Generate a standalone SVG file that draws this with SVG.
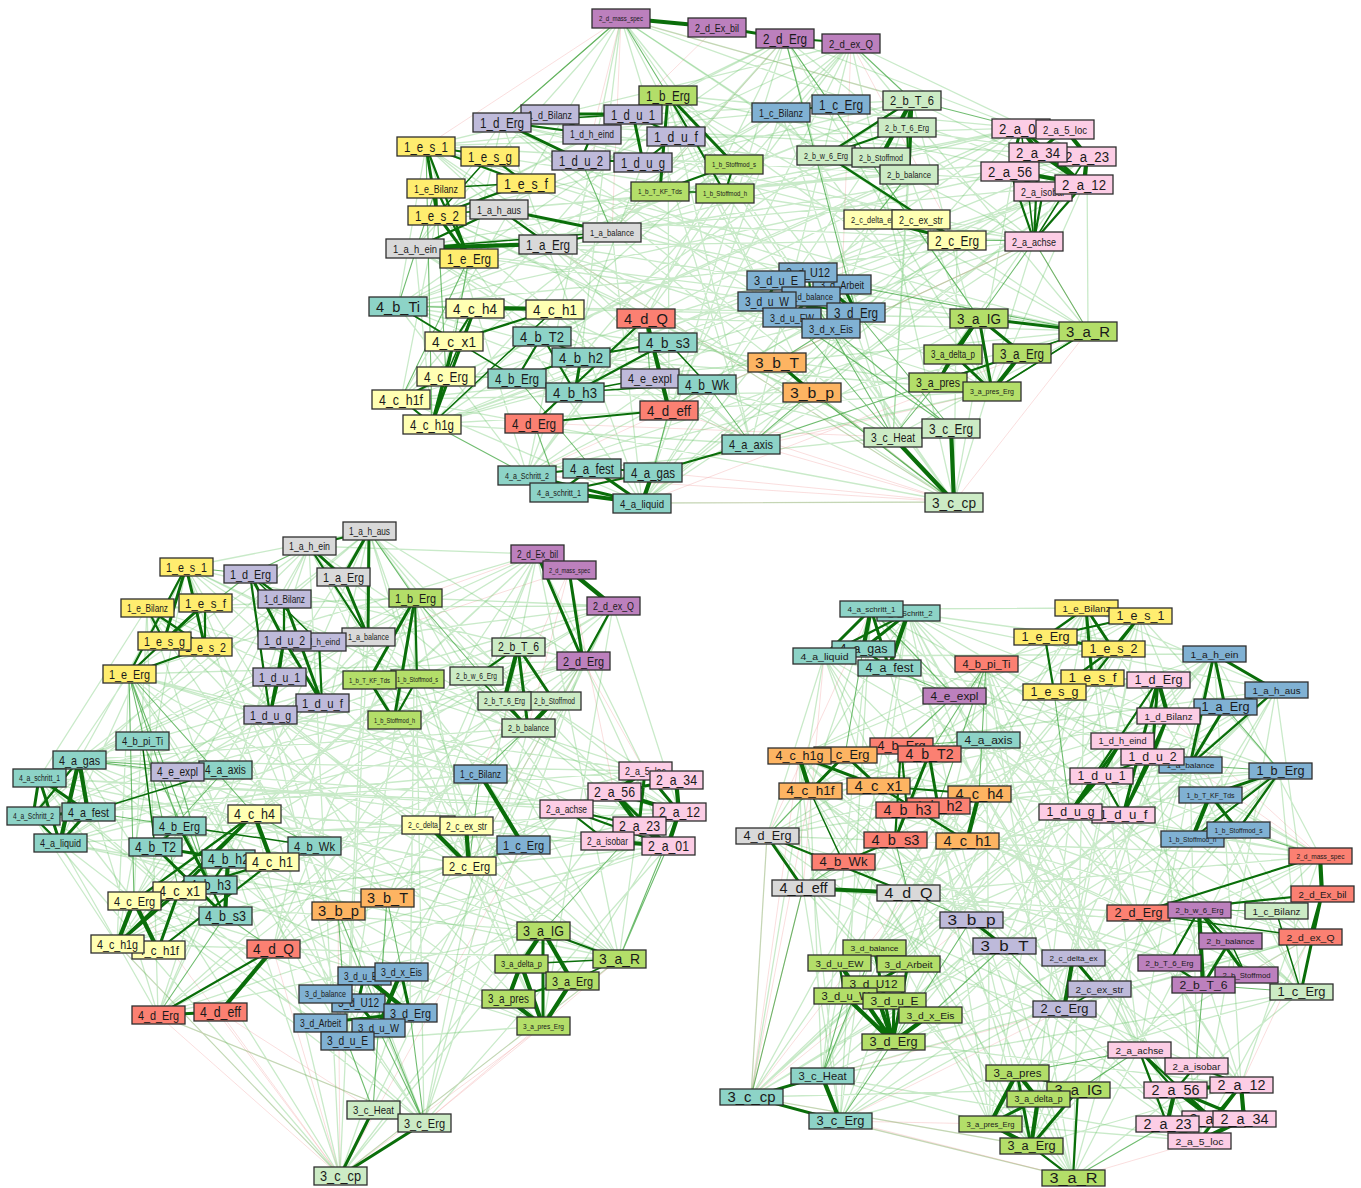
<svg xmlns="http://www.w3.org/2000/svg" width="1361" height="1188" viewBox="0 0 1361 1188">
<style>
text{font-family:"Liberation Sans",Arial,sans-serif;text-anchor:middle;dominant-baseline:central;fill:#1a1a1a}
.nd rect{stroke:#2e2e2e;stroke-width:1.3}
#gT rect{width:58px;height:19px}
#gL rect{width:53px;height:18px}
#gR rect{width:63px;height:16px}
.cG rect{fill:#d9d9d9}.cL rect{fill:#bebada}.cY rect{fill:#ffed6f}.cV rect{fill:#b3de69}.cB rect{fill:#80b1d3}.cP rect{fill:#bc80bd}.cM rect{fill:#ccebc5}.cK rect{fill:#fccde5}.cW rect{fill:#ffffb3}.cO rect{fill:#fdb462}.cT rect{fill:#8dd3c7}.cS rect{fill:#fb8072}
#gT .s1{font-size:15.5px}#gT .s2{font-size:14px}#gT .s3{font-size:13px}#gT .s4{font-size:12px}#gT .s5{font-size:11px}#gT .s6{font-size:10px}#gT .s7{font-size:9px}#gT .s8{font-size:8px}#gT .s9{font-size:7.3px}
#gL .s1{font-size:14.5px}#gL .s2{font-size:13px}#gL .s3{font-size:12px}#gL .s4{font-size:11.2px}#gL .s5{font-size:10.2px}#gL .s6{font-size:9.3px}#gL .s7{font-size:8.4px}#gL .s8{font-size:7.5px}#gL .s9{font-size:6.8px}
#gR .s1{font-size:14px}#gR .s2{font-size:12.5px}#gR .s3{font-size:11.5px}#gR .s4{font-size:10.5px}#gR .s5{font-size:9.7px}#gR .s6{font-size:8.8px}#gR .s7{font-size:8px}#gR .s8{font-size:7.2px}#gR .s9{font-size:6.5px}
.pk{fill:none;stroke:#f0a0a0;stroke-opacity:.35;stroke-width:1}
.fa{fill:none;stroke:#5cbf5c;stroke-opacity:.33;stroke-width:1.3}
.md{fill:none;stroke:#3fa53f;stroke-opacity:.75;stroke-width:1.1}
.st{fill:none;stroke:#0a6e0a;stroke-linecap:round}
.w1{stroke-width:1.5}.w2{stroke-width:2.2}.w3{stroke-width:3}.w4{stroke-width:4.2}
</style>
<g id="connectors">
<g id="edgesTop">
<path class="pk" d="M954 502 527 475M954 502 642 503M954 502 653 472M954 502 812 392M954 502 777 362M954 502 751 444M954 502 548 244M621 18 426 146M621 18 502 122M621 18 912 100M621 18 592 134M621 18 612 232M851 43 957 240M851 43 842 284M1088 331 1034 241M954 502 669 410M954 502 893 437M1088 331 954 502M642 503 1088 331M527 475 1034 241M559 492 992 391M717 27 581 160M785 38 612 232M669 410 1034 241M534 423 893 437"/>
<path class="fa" d="M621 18 1084 184M785 38 1034 241M851 43 1088 331M912 100 992 391M1021 128 954 502M1087 156 893 437M1084 184 751 444M1034 241 642 503M1088 331 527 475M992 391 432 424M954 502 401 399M893 437 398 306M751 444 415 248M642 503 437 215M527 475 426 146M432 424 502 122M401 399 668 95M398 306 781 112M415 248 621 18M437 215 785 38M426 146 851 43M502 122 912 100M668 95 1021 128M781 112 1087 156M621 18 954 502M785 38 893 437M851 43 751 444M912 100 642 503M1021 128 527 475M1087 156 432 424M1084 184 401 399M1034 241 398 306M1088 331 415 248M992 391 437 215M954 502 426 146M893 437 502 122M751 444 668 95M642 503 781 112M527 475 621 18M432 424 785 38M401 399 851 43M398 306 912 100M415 248 1021 128M437 215 1087 156M426 146 1084 184M502 122 1034 241M668 95 1088 331M781 112 992 391M621 18 751 444M785 38 642 503M851 43 527 475M912 100 432 424M1021 128 401 399M1087 156 398 306M1084 184 415 248M1034 241 437 215M1088 331 426 146M992 391 502 122M954 502 668 95M893 437 781 112M612 232 785 38M612 232 1021 128M612 232 1088 331M612 232 954 502M612 232 642 503M612 232 401 399M957 240 621 18M957 240 502 122M957 240 415 248M957 240 432 424M957 240 642 503M957 240 954 502M856 312 621 18M856 312 426 146M856 312 398 306M856 312 432 424M856 312 1087 156M856 312 642 503M812 392 668 95M812 392 437 215M812 392 1084 184M812 392 912 100M812 392 401 399M812 392 954 502M646 318 785 38M646 318 1021 128M646 318 1088 331M646 318 893 437M646 318 426 146M646 318 527 475M581 357 851 43M581 357 1084 184M581 357 992 391M581 357 751 444M581 357 415 248M581 357 621 18M979 318 426 146M979 318 668 95M979 318 398 306M979 318 527 475M979 318 751 444M979 318 785 38M909 174 437 215M909 174 401 399M909 174 642 503M909 174 893 437M909 174 992 391M909 174 502 122M725 193 1021 128M725 193 1034 241M725 193 954 502M725 193 527 475M725 193 398 306M725 193 426 146M669 410 668 95M669 410 851 43M669 410 1087 156M669 410 1034 241M669 410 437 215M669 410 398 306M767 301 621 18M767 301 502 122M767 301 415 248M767 301 432 424M767 301 1084 184M767 301 642 503M548 244 912 100M548 244 1087 156M548 244 1088 331M548 244 954 502M548 244 751 444M548 244 781 112"/>
<path class="fa" d="M621 18 912 100M785 38 1021 128M851 43 1087 156M912 100 1084 184M1021 128 1034 241M1087 156 1088 331M1084 184 992 391M1034 241 954 502M1088 331 893 437M992 391 751 444M954 502 642 503M893 437 527 475M751 444 432 424M642 503 401 399M527 475 398 306M432 424 415 248M401 399 437 215M398 306 426 146M415 248 502 122M437 215 668 95M426 146 781 112M502 122 621 18M668 95 785 38M781 112 851 43M621 18 1088 331M785 38 992 391M851 43 954 502M912 100 893 437M1021 128 751 444M1087 156 642 503M1084 184 527 475M1034 241 432 424M1088 331 401 399M992 391 398 306M954 502 415 248M893 437 437 215M751 444 426 146M642 503 502 122M527 475 668 95M432 424 781 112M401 399 621 18M398 306 785 38M415 248 851 43M437 215 912 100M426 146 1021 128M502 122 1087 156M668 95 1084 184M781 112 1034 241"/>
<path class="md" d="M436 188 446 376M426 146 432 424M436 188 398 306M469 258 401 399M469 258 454 341M785 38 856 312M785 38 979 318M621 18 502 122M777 362 856 312M767 301 951 428M792 317 893 437M831 328 951 428M811 296 893 437M856 312 951 428M751 444 1088 331M842 284 1088 331M812 392 751 444M1034 241 1088 331M957 240 1034 241M873 219 909 174M1021 128 912 100M668 95 621 18M851 43 912 100M548 244 612 232M612 232 581 160M398 306 475 308M398 306 454 341M517 378 446 376M650 378 646 318M707 384 751 444M669 410 707 384M592 468 517 378M653 472 669 410M527 475 432 424M559 492 534 423M1088 331 992 391M979 318 1034 241M938 382 893 437M954 502 812 392"/>
<path class="st w1" d="M415 248 612 232M490 156 437 215M436 188 526 183M502 122 633 114M660 191 725 193M1088 331 1022 353M893 437 951 428M475 308 446 376M555 309 432 424M707 384 575 392M398 306 517 378M668 342 707 384M650 378 575 392M499 209 437 215M469 258 415 248M1088 331 992 391M1034 241 1021 128M1034 241 1087 156"/>
<path class="st w2" d="M499 209 548 244M415 248 499 209M548 244 612 232M426 146 490 156M426 146 469 258M490 156 526 183M436 188 437 215M526 183 437 215M436 188 469 258M426 146 526 183M502 122 550 114M633 114 676 136M581 160 643 162M592 134 581 160M502 122 592 134M676 136 643 162M550 114 592 134M668 95 725 193M660 191 734 164M734 164 725 193M781 112 841 104M785 38 851 43M912 100 826 155M907 127 826 155M881 157 909 174M907 127 909 174M921 219 957 240M873 219 921 219M826 155 957 240M979 318 938 382M938 382 992 391M1022 353 938 382M767 301 856 312M792 317 831 328M811 296 856 312M776 280 831 328M808 272 811 296M776 280 856 312M842 284 831 328M527 475 592 468M559 492 592 468M592 468 653 472M653 472 751 444M559 492 653 472M475 308 454 341M454 341 446 376M446 376 401 399M401 399 432 424M555 309 454 341M446 376 432 424M542 336 581 357M542 336 517 378M517 378 575 392M668 342 581 357M668 342 575 392M542 336 575 392M517 378 581 357M669 410 534 423M646 318 534 423M1034 241 1043 191M1034 241 1010 171M1034 241 1084 184M1034 241 1038 152"/>
<path class="st w3" d="M499 209 612 232M426 146 437 215M437 215 469 258M502 122 581 160M550 114 633 114M633 114 643 162M668 95 734 164M668 95 660 191M717 27 785 38M912 100 907 127M912 100 909 174M873 219 957 240M979 318 1088 331M979 318 1022 353M979 318 992 391M953 354 938 382M953 354 992 391M777 362 812 392M527 475 559 492M592 468 642 503M527 475 642 503M475 308 432 424M454 341 432 424M581 357 575 392M1021 128 1010 171M1065 129 1038 152M1038 152 1087 156M1010 171 1043 191M1043 191 1084 184M1021 128 1084 184M1021 128 1065 129M808 272 856 312M776 280 767 301M842 284 856 312M811 296 792 317M808 272 776 280"/>
<path class="st w4" d="M415 248 548 244M621 18 717 27M912 100 881 157M979 318 953 354M1022 353 992 391M893 437 954 502M951 428 954 502M559 492 642 503M653 472 642 503M475 308 555 309M646 318 669 410M1021 128 1038 152M1038 152 1010 171M1038 152 1084 184M1087 156 1084 184M1010 171 1084 184M1065 129 1087 156"/>
</g>
<g id="edgesLeft">
<path class="pk" d="M340 1176 158 1015M340 1176 220 1012M340 1176 619 959M340 1176 543 1026M340 1176 273 949M340 1176 338 911M340 1176 523 845M340 1176 117 944M340 1176 134 901M569 570 528 728M569 570 480 774M569 570 614 792M569 570 368 637M613 606 469 866M537 554 415 598M158 1015 424 1123M220 1012 373 1110M424 1123 543 1026M619 959 424 1123M583 661 645 771"/>
<path class="fa" d="M369 531 668 846M537 554 619 959M613 606 543 1026M583 661 424 1123M645 771 340 1176M679 812 347 1041M668 846 158 1015M619 959 117 944M543 1026 134 901M424 1123 60 843M340 1176 33 816M347 1041 39 778M158 1015 79 760M117 944 129 674M134 901 147 608M60 843 186 567M33 816 309 546M39 778 415 598M79 760 369 531M129 674 537 554M147 608 613 606M186 567 583 661M309 546 645 771M415 598 679 812M369 531 340 1176M537 554 347 1041M613 606 158 1015M583 661 117 944M645 771 134 901M679 812 60 843M668 846 33 816M619 959 39 778M543 1026 79 760M424 1123 129 674M340 1176 147 608M347 1041 186 567M158 1015 309 546M117 944 415 598M134 901 369 531M60 843 537 554M33 816 613 606M39 778 583 661M79 760 645 771M129 674 679 812M147 608 668 846M186 567 619 959M309 546 543 1026M415 598 424 1123M369 531 158 1015M537 554 117 944M613 606 134 901M583 661 60 843M645 771 33 816M679 812 39 778M668 846 79 760M619 959 129 674M543 1026 147 608M424 1123 186 567M340 1176 309 546M347 1041 415 598M368 637 613 606M368 637 679 812M368 637 543 1026M368 637 347 1041M368 637 134 901M368 637 39 778M528 728 369 531M528 728 186 567M528 728 79 760M528 728 60 843M528 728 158 1015M528 728 424 1123M480 774 309 546M480 774 129 674M480 774 33 816M480 774 117 944M480 774 340 1176M480 774 619 959M469 866 369 531M469 866 147 608M469 866 39 778M469 866 415 598M469 866 613 606M469 866 645 771M387 898 537 554M387 898 583 661M387 898 679 812M387 898 129 674M387 898 186 567M387 898 60 843M273 949 537 554M273 949 583 661M273 949 645 771M273 949 415 598M273 949 369 531M273 949 668 846M254 814 613 606M254 814 668 846M254 814 543 1026M254 814 340 1176M254 814 537 554M254 814 158 1015M270 715 645 771M270 715 619 959M270 715 424 1123M270 715 347 1041M270 715 117 944M270 715 33 816M543 931 147 608M543 931 309 546M543 931 79 760M543 931 134 901M543 931 158 1015M543 931 340 1176M566 809 186 567M566 809 129 674M566 809 39 778M566 809 117 944M566 809 347 1041M566 809 369 531M177 772 537 554M177 772 583 661M177 772 679 812M177 772 619 959M177 772 424 1123M177 772 309 546M410 1013 147 608M410 1013 79 760M410 1013 415 598M410 1013 613 606M410 1013 679 812M410 1013 134 901"/>
<path class="fa" d="M369 531 583 661M537 554 645 771M613 606 679 812M583 661 668 846M645 771 619 959M679 812 543 1026M668 846 424 1123M619 959 340 1176M543 1026 347 1041M424 1123 158 1015M340 1176 117 944M347 1041 134 901M158 1015 60 843M117 944 33 816M134 901 39 778M60 843 79 760M33 816 129 674M39 778 147 608M79 760 186 567M129 674 309 546M147 608 415 598M186 567 369 531M309 546 537 554M415 598 613 606M369 531 543 1026M537 554 424 1123M613 606 340 1176M583 661 347 1041M645 771 158 1015M679 812 117 944M668 846 134 901M619 959 60 843M543 1026 33 816M424 1123 39 778M340 1176 79 760M347 1041 129 674M158 1015 147 608M117 944 186 567M134 901 309 546M60 843 415 598M33 816 369 531M39 778 537 554M79 760 613 606M129 674 583 661M147 608 645 771M186 567 679 812M309 546 668 846M415 598 619 959"/>
<path class="md" d="M129 674 179 826M129 674 254 814M129 674 210 885M129 674 179 891M129 674 134 901M142 741 210 885M79 760 177 772M79 760 225 770M88 812 179 826M387 898 410 1013M387 898 378 1028M387 898 373 1110M338 911 347 1041M338 911 424 1123M469 866 480 774M619 959 668 846M619 959 679 812M424 1123 410 1013M424 1123 378 1028M373 1110 347 1041M369 531 415 598M415 598 504 701M250 574 186 567M164 641 250 574M309 546 250 574M480 774 528 728M469 866 523 845M543 931 639 826M254 814 314 846M177 772 210 885M225 770 155 847M273 949 225 916M225 916 158 1015"/>
<path class="st w1" d="M250 574 319 642M476 676 528 728M88 812 225 770M179 826 314 846M142 741 155 847M428 825 466 826M619 959 572 981M619 959 521 964M373 1110 424 1123"/>
<path class="st w2" d="M309 546 368 637M309 546 369 531M186 567 129 674M205 603 129 674M147 608 205 647M164 641 205 647M147 608 164 641M205 603 205 647M129 674 205 647M250 574 270 715M284 599 284 640M319 642 322 703M250 574 284 599M284 640 279 677M415 598 417 679M417 679 394 720M613 606 583 661M537 554 569 570M476 676 518 647M543 931 619 959M572 981 508 999M521 964 572 981M338 911 387 898M33 816 60 843M79 760 33 816M228 859 210 885M179 826 155 847M210 885 225 916M272 862 179 891M254 814 117 944M272 862 158 950M134 901 254 814M273 949 158 1015M566 809 639 826M566 809 607 841M566 809 668 846M325 994 364 976M320 1023 347 1041M364 976 401 972M378 1028 347 1041"/>
<path class="st w3" d="M369 531 343 577M369 531 368 637M309 546 343 577M343 577 368 637M186 567 164 641M186 567 205 647M205 603 164 641M250 574 284 640M284 599 322 703M284 640 322 703M279 677 270 715M284 640 270 715M415 598 369 680M415 598 394 720M369 680 394 720M537 554 583 661M569 570 583 661M518 647 528 728M518 647 554 701M504 701 528 728M543 931 543 1026M373 1110 340 1176M424 1123 340 1176M79 760 39 778M39 778 60 843M39 778 33 816M33 816 88 812M88 812 60 843M39 778 88 812M155 847 228 859M155 847 225 916M179 826 210 885M254 814 179 891M179 891 158 950M179 891 117 944M220 1012 158 1015M645 771 679 812M676 780 614 792M614 792 668 846M639 826 607 841M679 812 639 826M645 771 639 826M325 994 410 1013M320 1023 410 1013M347 1041 410 1013M358 1003 378 1028M364 976 358 1003M401 972 410 1013"/>
<path class="st w4" d="M569 570 613 606M518 647 504 701M554 701 528 728M480 774 523 845M428 825 469 866M466 826 469 866M543 931 521 964M543 931 572 981M521 964 508 999M521 964 543 1026M508 999 543 1026M572 981 543 1026M79 760 88 812M79 760 60 843M228 859 225 916M254 814 272 862M134 901 117 944M134 901 158 950M273 949 220 1012M645 771 676 780M614 792 679 812M639 826 668 846M614 792 639 826M607 841 668 846M676 780 679 812M645 771 614 792M679 812 668 846M364 976 410 1013M401 972 378 1028M358 1003 410 1013"/>
</g>
<g id="edgesRight">
<path class="pk" d="M751 1097 803 888M751 1097 767 836M751 1097 908 893M751 1097 971 920M751 1097 1064 1009M751 1097 1031 1146M751 1097 1073 1178M751 1097 810 791M751 1097 799 756M840 1121 990 1124M840 1121 1073 1178M803 888 767 836M1320 856 1190 765M1320 856 1168 716M1310 937 1246 975M767 836 871 609M803 888 824 656M1073 1178 1199 1141M1241 1085 1310 937M840 1121 1064 1009"/>
<path class="fa" d="M908 613 1320 856M1086 608 1310 937M1140 616 1301 992M1214 654 1241 1085M1276 690 1199 1141M1280 771 1073 1178M1320 856 1031 1146M1310 937 990 1124M1301 992 840 1121M1241 1085 751 1097M1199 1141 822 1076M1073 1178 803 888M1031 1146 767 836M990 1124 810 791M840 1121 799 756M751 1097 824 656M822 1076 871 609M803 888 986 664M767 836 908 613M810 791 1086 608M799 756 1140 616M824 656 1214 654M871 609 1276 690M986 664 1280 771M908 613 1199 1141M1086 608 1073 1178M1140 616 1031 1146M1214 654 990 1124M1276 690 840 1121M1280 771 751 1097M1320 856 822 1076M1310 937 803 888M1301 992 767 836M1241 1085 810 791M1199 1141 799 756M1073 1178 824 656M1031 1146 871 609M990 1124 986 664M840 1121 908 613M751 1097 1086 608M822 1076 1140 616M803 888 1214 654M767 836 1276 690M810 791 1280 771M799 756 1320 856M824 656 1310 937M871 609 1301 992M986 664 1241 1085M908 613 1031 1146M1086 608 990 1124M1140 616 840 1121M1214 654 751 1097M1276 690 822 1076M1280 771 803 888M1320 856 767 836M1310 937 810 791M1301 992 799 756M1241 1085 824 656M1199 1141 871 609M1073 1178 986 664M1070 812 908 613M1070 812 1214 654M1070 812 1320 856M1070 812 1241 1085M1070 812 1031 1146M1070 812 751 1097M1190 765 824 656M1190 765 767 836M1190 765 822 1076M1190 765 990 1124M1190 765 1199 1141M1190 765 1301 992M1138 913 871 609M1138 913 799 756M1138 913 803 888M1138 913 840 1121M1138 913 1086 608M1138 913 1276 690M1064 1009 908 613M1064 1009 1140 616M1064 1009 1280 771M1064 1009 1310 937M1064 1009 810 791M1064 1009 986 664M893 1042 1086 608M893 1042 1214 654M893 1042 1280 771M893 1042 1310 937M893 1042 1241 1085M893 1042 986 664M1004 946 824 656M1004 946 810 791M1004 946 751 1097M1004 946 1073 1178M1004 946 1276 690M1004 946 1140 616M908 893 1140 616M908 893 1276 690M908 893 1320 856M908 893 1301 992M908 893 1199 1141M908 893 1031 1146M938 806 1280 771M938 806 1310 937M938 806 1241 1085M938 806 1073 1178M938 806 990 1124M938 806 822 1076M988 740 840 1121M988 740 822 1076M988 740 767 836M988 740 1199 1141M988 740 1301 992M988 740 1320 856M1139 1050 799 756M1139 1050 871 609M1139 1050 908 613M1139 1050 986 664M1139 1050 1086 608M1139 1050 1214 654M1168 716 803 888M1168 716 810 791M1168 716 824 656M1168 716 751 1097M1168 716 1031 1146M1168 716 908 613M874 948 1086 608M874 948 1140 616M874 948 1214 654M874 948 1276 690M874 948 1280 771M874 948 1241 1085"/>
<path class="fa" d="M908 613 1214 654M1086 608 1276 690M1140 616 1280 771M1214 654 1320 856M1276 690 1310 937M1280 771 1301 992M1320 856 1241 1085M1310 937 1199 1141M1301 992 1073 1178M1241 1085 1031 1146M1199 1141 990 1124M1073 1178 840 1121M1031 1146 751 1097M990 1124 822 1076M840 1121 803 888M751 1097 767 836M822 1076 810 791M803 888 799 756M767 836 824 656M810 791 871 609M799 756 986 664M824 656 908 613M871 609 1086 608M986 664 1140 616M908 613 1301 992M1086 608 1241 1085M1140 616 1199 1141M1214 654 1073 1178M1276 690 1031 1146M1280 771 990 1124M1320 856 840 1121M1310 937 751 1097M1301 992 822 1076M1241 1085 803 888M1199 1141 767 836M1073 1178 810 791M1031 1146 799 756M990 1124 824 656M840 1121 871 609M751 1097 986 664M822 1076 908 613M803 888 1086 608M767 836 1140 616M810 791 1214 654M799 756 1276 690M824 656 1280 771M871 609 1320 856M986 664 1310 937"/>
<path class="md" d="M986 664 929 754M986 664 938 806M986 664 979 794M988 740 901 746M988 740 929 754M954 696 871 609M954 696 901 746M1045 637 1140 616M1004 946 930 1015M971 920 893 1042M893 1042 840 1121M822 1076 845 996M1139 1050 1078 1090M1073 1178 1167 1124M1073 1178 1078 1090M1203 985 1301 992M1199 910 1276 911M1138 913 1199 910M1064 1009 1004 946M1070 812 1054 692M1092 678 1158 680M1190 765 1280 771M1225 707 1280 771M1238 830 1320 856M767 836 810 791M803 888 843 862M908 893 895 840M908 893 971 920M751 1097 803 888M822 1076 874 948M1017 1073 1139 1050M1196 1066 1203 985M889 668 954 696M863 649 845 755"/>
<path class="st w1" d="M1276 690 1225 707M1310 937 1138 913M1276 911 1301 992M1230 941 1246 975M1099 989 1064 1009M810 791 843 862"/>
<path class="st w2" d="M1140 616 1092 678M1045 637 1054 692M1092 678 1054 692M1086 608 1045 637M1140 616 1045 637M1113 649 1054 692M1158 680 1070 812M1101 776 1123 815M1152 757 1101 776M1122 741 1101 776M1276 690 1190 765M1280 771 1192 839M1280 771 1238 830M1238 830 1192 839M1322 894 1138 913M1320 856 1138 913M1199 910 1230 941M1199 910 1169 963M1169 963 1203 985M1246 975 1203 985M1078 1090 1073 1178M1031 1146 1073 1178M1017 1073 1078 1090M908 613 824 656M863 649 889 668M824 656 863 649M878 786 979 794M878 786 967 841M901 746 907 810M938 806 907 810M901 746 895 840M843 862 895 840M907 810 895 840M901 746 929 754M767 836 908 893M1139 1050 1175 1090M1139 1050 1167 1124M1139 1050 1213 1119M1196 1066 1175 1090M1196 1066 1241 1085M839 963 845 996M873 984 894 1001M930 1015 894 1001M845 996 894 1001"/>
<path class="st w3" d="M1086 608 1113 649M1086 608 1092 678M1140 616 1113 649M1045 637 1113 649M1158 680 1152 757M1158 680 1123 815M1168 716 1123 815M1122 741 1070 812M1152 757 1123 815M1101 776 1070 812M1168 716 1152 757M1214 654 1225 707M1214 654 1276 690M1214 654 1190 765M1225 707 1190 765M1280 771 1210 795M1210 795 1238 830M1322 894 1310 937M1322 894 1301 992M1230 941 1203 985M1199 910 1246 975M1073 958 1099 989M1017 1073 1031 1146M1078 1090 1031 1146M1038 1099 990 1124M971 920 1004 946M751 1097 822 1076M751 1097 840 1121M871 609 889 668M908 613 863 649M871 609 824 656M799 756 878 786M845 755 878 786M845 755 810 791M929 754 938 806M929 754 895 840M767 836 803 888M1241 1085 1213 1119M1175 1090 1244 1119M1167 1124 1213 1119M1241 1085 1199 1141M874 948 893 1042M908 964 893 1042M894 1001 893 1042M874 948 839 963M908 964 873 984"/>
<path class="st w4" d="M1158 680 1168 716M1210 795 1192 839M1320 856 1322 894M1199 910 1203 985M1073 958 1064 1009M1017 1073 1038 1099M1017 1073 990 1124M1038 1099 1031 1146M990 1124 1031 1146M822 1076 840 1121M871 609 863 649M908 613 889 668M799 756 810 791M979 794 967 841M803 888 908 893M1175 1090 1241 1085M1175 1090 1167 1124M1213 1119 1244 1119M1167 1124 1199 1141M1241 1085 1244 1119M1175 1090 1213 1119M1199 1141 1244 1119M839 963 893 1042M873 984 893 1042M930 1015 893 1042M845 996 893 1042"/>
</g>
</g>
<g id="gT" class="nd">
<g id="t_2_d_mass_spec" class="cP"><rect x="592" y="9"/><text x="621" y="18.5" class="s9" textLength="44" lengthAdjust="spacingAndGlyphs">2_d_mass_spec</text></g>
<g id="t_2_d_Ex_bil" class="cP"><rect x="688" y="18"/><text x="717" y="27.5" class="s5" textLength="44" lengthAdjust="spacingAndGlyphs">2_d_Ex_bil</text></g>
<g id="t_2_d_Erg" class="cP"><rect x="756" y="29"/><text x="785" y="38.5" class="s2" textLength="44" lengthAdjust="spacingAndGlyphs">2_d_Erg</text></g>
<g id="t_2_d_ex_Q" class="cP"><rect x="822" y="34"/><text x="851" y="43.5" class="s5" textLength="44" lengthAdjust="spacingAndGlyphs">2_d_ex_Q</text></g>
<g id="t_1_b_Erg" class="cV"><rect x="639" y="86"/><text x="668" y="95.5" class="s2" textLength="44" lengthAdjust="spacingAndGlyphs">1_b_Erg</text></g>
<g id="t_1_d_Bilanz" class="cL"><rect x="521" y="105"/><text x="550" y="114.5" class="s5" textLength="44" lengthAdjust="spacingAndGlyphs">1_d_Bilanz</text></g>
<g id="t_1_d_u_1" class="cL"><rect x="604" y="105"/><text x="633" y="114.5" class="s2" textLength="44" lengthAdjust="spacingAndGlyphs">1_d_u_1</text></g>
<g id="t_1_d_Erg" class="cL"><rect x="473" y="113"/><text x="502" y="122.5" class="s2" textLength="44" lengthAdjust="spacingAndGlyphs">1_d_Erg</text></g>
<g id="t_1_d_h_eind" class="cL"><rect x="563" y="125"/><text x="592" y="134.5" class="s6" textLength="44" lengthAdjust="spacingAndGlyphs">1_d_h_eind</text></g>
<g id="t_1_d_u_f" class="cL"><rect x="647" y="127"/><text x="676" y="136.5" class="s2" textLength="44" lengthAdjust="spacingAndGlyphs">1_d_u_f</text></g>
<g id="t_1_e_s_1" class="cY"><rect x="397" y="137"/><text x="426" y="146.5" class="s2" textLength="44" lengthAdjust="spacingAndGlyphs">1_e_s_1</text></g>
<g id="t_1_e_s_g" class="cY"><rect x="461" y="147"/><text x="490" y="156.5" class="s2" textLength="44" lengthAdjust="spacingAndGlyphs">1_e_s_g</text></g>
<g id="t_1_d_u_2" class="cL"><rect x="552" y="151"/><text x="581" y="160.5" class="s2" textLength="44" lengthAdjust="spacingAndGlyphs">1_d_u_2</text></g>
<g id="t_1_d_u_g" class="cL"><rect x="614" y="153"/><text x="643" y="162.5" class="s2" textLength="44" lengthAdjust="spacingAndGlyphs">1_d_u_g</text></g>
<g id="t_1_b_Stoffmod_s" class="cV"><rect x="705" y="155"/><text x="734" y="164.5" class="s9" textLength="44" lengthAdjust="spacingAndGlyphs">1_b_Stoffmod_s</text></g>
<g id="t_1_e_s_f" class="cY"><rect x="497" y="174"/><text x="526" y="183.5" class="s2" textLength="44" lengthAdjust="spacingAndGlyphs">1_e_s_f</text></g>
<g id="t_1_e_Bilanz" class="cY"><rect x="407" y="179"/><text x="436" y="188.5" class="s5" textLength="44" lengthAdjust="spacingAndGlyphs">1_e_Bilanz</text></g>
<g id="t_1_b_T_KF_Tds" class="cV"><rect x="631" y="182"/><text x="660" y="191.5" class="s8" textLength="44" lengthAdjust="spacingAndGlyphs">1_b_T_KF_Tds</text></g>
<g id="t_1_b_Stoffmod_h" class="cV"><rect x="696" y="184"/><text x="725" y="193.5" class="s9" textLength="44" lengthAdjust="spacingAndGlyphs">1_b_Stoffmod_h</text></g>
<g id="t_1_a_h_aus" class="cG"><rect x="470" y="200"/><text x="499" y="209.5" class="s5" textLength="44" lengthAdjust="spacingAndGlyphs">1_a_h_aus</text></g>
<g id="t_1_e_s_2" class="cY"><rect x="408" y="206"/><text x="437" y="215.5" class="s2" textLength="44" lengthAdjust="spacingAndGlyphs">1_e_s_2</text></g>
<g id="t_1_a_balance" class="cG"><rect x="583" y="223"/><text x="612" y="232.5" class="s7" textLength="44" lengthAdjust="spacingAndGlyphs">1_a_balance</text></g>
<g id="t_1_a_Erg" class="cG"><rect x="519" y="235"/><text x="548" y="244.5" class="s2" textLength="44" lengthAdjust="spacingAndGlyphs">1_a_Erg</text></g>
<g id="t_1_a_h_ein" class="cG"><rect x="386" y="239"/><text x="415" y="248.5" class="s5" textLength="44" lengthAdjust="spacingAndGlyphs">1_a_h_ein</text></g>
<g id="t_1_e_Erg" class="cY"><rect x="440" y="249"/><text x="469" y="258.5" class="s2" textLength="44" lengthAdjust="spacingAndGlyphs">1_e_Erg</text></g>
<g id="t_1_c_Bilanz" class="cB"><rect x="752" y="103"/><text x="781" y="112.5" class="s5" textLength="44" lengthAdjust="spacingAndGlyphs">1_c_Bilanz</text></g>
<g id="t_1_c_Erg" class="cB"><rect x="812" y="95"/><text x="841" y="104.5" class="s2" textLength="44" lengthAdjust="spacingAndGlyphs">1_c_Erg</text></g>
<g id="t_2_b_T_6" class="cM"><rect x="883" y="91"/><text x="912" y="100.5" class="s3" textLength="44" lengthAdjust="spacingAndGlyphs">2_b_T_6</text></g>
<g id="t_2_b_T_6_Erg" class="cM"><rect x="878" y="118"/><text x="907" y="127.5" class="s7" textLength="44" lengthAdjust="spacingAndGlyphs">2_b_T_6_Erg</text></g>
<g id="t_2_b_w_6_Erg" class="cM"><rect x="797" y="146"/><text x="826" y="155.5" class="s7" textLength="44" lengthAdjust="spacingAndGlyphs">2_b_w_6_Erg</text></g>
<g id="t_2_b_Stoffmod" class="cM"><rect x="852" y="148"/><text x="881" y="157.5" class="s7" textLength="44" lengthAdjust="spacingAndGlyphs">2_b_Stoffmod</text></g>
<g id="t_2_b_balance" class="cM"><rect x="880" y="165"/><text x="909" y="174.5" class="s7" textLength="44" lengthAdjust="spacingAndGlyphs">2_b_balance</text></g>
<g id="t_2_a_01" class="cK"><rect x="992" y="119"/><text x="1021" y="128.5" class="s1" textLength="44" lengthAdjust="spacingAndGlyphs">2_a_01</text></g>
<g id="t_2_a_5_loc" class="cK"><rect x="1036" y="120"/><text x="1065" y="129.5" class="s5" textLength="44" lengthAdjust="spacingAndGlyphs">2_a_5_loc</text></g>
<g id="t_2_a_23" class="cK"><rect x="1058" y="147"/><text x="1087" y="156.5" class="s1" textLength="44" lengthAdjust="spacingAndGlyphs">2_a_23</text></g>
<g id="t_2_a_34" class="cK"><rect x="1009" y="143"/><text x="1038" y="152.5" class="s1" textLength="44" lengthAdjust="spacingAndGlyphs">2_a_34</text></g>
<g id="t_2_a_56" class="cK"><rect x="981" y="162"/><text x="1010" y="171.5" class="s1" textLength="44" lengthAdjust="spacingAndGlyphs">2_a_56</text></g>
<g id="t_2_a_isobar" class="cK"><rect x="1014" y="182"/><text x="1043" y="191.5" class="s5" textLength="44" lengthAdjust="spacingAndGlyphs">2_a_isobar</text></g>
<g id="t_2_a_12" class="cK"><rect x="1055" y="175"/><text x="1084" y="184.5" class="s1" textLength="44" lengthAdjust="spacingAndGlyphs">2_a_12</text></g>
<g id="t_2_c_delta_ex" class="cW"><rect x="844" y="210"/><text x="873" y="219.5" class="s7" textLength="44" lengthAdjust="spacingAndGlyphs">2_c_delta_ex</text></g>
<g id="t_2_c_ex_str" class="cW"><rect x="892" y="210"/><text x="921" y="219.5" class="s5" textLength="44" lengthAdjust="spacingAndGlyphs">2_c_ex_str</text></g>
<g id="t_2_c_Erg" class="cW"><rect x="928" y="231"/><text x="957" y="240.5" class="s2" textLength="44" lengthAdjust="spacingAndGlyphs">2_c_Erg</text></g>
<g id="t_2_a_achse" class="cK"><rect x="1005" y="232"/><text x="1034" y="241.5" class="s5" textLength="44" lengthAdjust="spacingAndGlyphs">2_a_achse</text></g>
<g id="t_3_d_Arbeit" class="cB"><rect x="813" y="275"/><text x="842" y="284.5" class="s5" textLength="44" lengthAdjust="spacingAndGlyphs">3_d_Arbeit</text></g>
<g id="t_3_d_U12" class="cB"><rect x="779" y="263"/><text x="808" y="272.5" class="s3" textLength="44" lengthAdjust="spacingAndGlyphs">3_d_U12</text></g>
<g id="t_3_d_u_E" class="cB"><rect x="747" y="271"/><text x="776" y="280.5" class="s3" textLength="44" lengthAdjust="spacingAndGlyphs">3_d_u_E</text></g>
<g id="t_3_d_balance" class="cB"><rect x="782" y="287"/><text x="811" y="296.5" class="s7" textLength="44" lengthAdjust="spacingAndGlyphs">3_d_balance</text></g>
<g id="t_3_d_u_W" class="cB"><rect x="738" y="292"/><text x="767" y="301.5" class="s4" textLength="44" lengthAdjust="spacingAndGlyphs">3_d_u_W</text></g>
<g id="t_3_d_Erg" class="cB"><rect x="827" y="303"/><text x="856" y="312.5" class="s2" textLength="44" lengthAdjust="spacingAndGlyphs">3_d_Erg</text></g>
<g id="t_3_d_u_EW" class="cB"><rect x="763" y="308"/><text x="792" y="317.5" class="s5" textLength="44" lengthAdjust="spacingAndGlyphs">3_d_u_EW</text></g>
<g id="t_3_d_x_Eis" class="cB"><rect x="802" y="319"/><text x="831" y="328.5" class="s5" textLength="44" lengthAdjust="spacingAndGlyphs">3_d_x_Eis</text></g>
<g id="t_3_a_IG" class="cV"><rect x="950" y="309"/><text x="979" y="318.5" class="s1" textLength="44" lengthAdjust="spacingAndGlyphs">3_a_IG</text></g>
<g id="t_3_a_R" class="cV"><rect x="1059" y="322"/><text x="1088" y="331.5" class="s1" textLength="44" lengthAdjust="spacingAndGlyphs">3_a_R</text></g>
<g id="t_3_a_delta_p" class="cV"><rect x="924" y="345"/><text x="953" y="354.5" class="s6" textLength="44" lengthAdjust="spacingAndGlyphs">3_a_delta_p</text></g>
<g id="t_3_a_Erg" class="cV"><rect x="993" y="344"/><text x="1022" y="353.5" class="s2" textLength="44" lengthAdjust="spacingAndGlyphs">3_a_Erg</text></g>
<g id="t_3_a_pres" class="cV"><rect x="909" y="373"/><text x="938" y="382.5" class="s3" textLength="44" lengthAdjust="spacingAndGlyphs">3_a_pres</text></g>
<g id="t_3_a_pres_Erg" class="cV"><rect x="963" y="382"/><text x="992" y="391.5" class="s8" textLength="44" lengthAdjust="spacingAndGlyphs">3_a_pres_Erg</text></g>
<g id="t_3_b_T" class="cO"><rect x="748" y="353"/><text x="777" y="362.5" class="s1" textLength="44" lengthAdjust="spacingAndGlyphs">3_b_T</text></g>
<g id="t_3_b_p" class="cO"><rect x="783" y="383"/><text x="812" y="392.5" class="s1" textLength="44" lengthAdjust="spacingAndGlyphs">3_b_p</text></g>
<g id="t_3_c_Heat" class="cM"><rect x="864" y="428"/><text x="893" y="437.5" class="s4" textLength="44" lengthAdjust="spacingAndGlyphs">3_c_Heat</text></g>
<g id="t_3_c_Erg" class="cM"><rect x="922" y="419"/><text x="951" y="428.5" class="s2" textLength="44" lengthAdjust="spacingAndGlyphs">3_c_Erg</text></g>
<g id="t_3_c_cp" class="cM"><rect x="925" y="493"/><text x="954" y="502.5" class="s1" textLength="44" lengthAdjust="spacingAndGlyphs">3_c_cp</text></g>
<g id="t_4_b_Ti" class="cT"><rect x="369" y="297"/><text x="398" y="306.5" class="s1" textLength="44" lengthAdjust="spacingAndGlyphs">4_b_Ti</text></g>
<g id="t_4_c_h4" class="cW"><rect x="446" y="299"/><text x="475" y="308.5" class="s1" textLength="44" lengthAdjust="spacingAndGlyphs">4_c_h4</text></g>
<g id="t_4_c_h1" class="cW"><rect x="526" y="300"/><text x="555" y="309.5" class="s1" textLength="44" lengthAdjust="spacingAndGlyphs">4_c_h1</text></g>
<g id="t_4_d_Q" class="cS"><rect x="617" y="309"/><text x="646" y="318.5" class="s1" textLength="44" lengthAdjust="spacingAndGlyphs">4_d_Q</text></g>
<g id="t_4_b_T2" class="cT"><rect x="513" y="327"/><text x="542" y="336.5" class="s1" textLength="44" lengthAdjust="spacingAndGlyphs">4_b_T2</text></g>
<g id="t_4_c_x1" class="cW"><rect x="425" y="332"/><text x="454" y="341.5" class="s1" textLength="44" lengthAdjust="spacingAndGlyphs">4_c_x1</text></g>
<g id="t_4_b_s3" class="cT"><rect x="639" y="333"/><text x="668" y="342.5" class="s1" textLength="44" lengthAdjust="spacingAndGlyphs">4_b_s3</text></g>
<g id="t_4_b_h2" class="cT"><rect x="552" y="348"/><text x="581" y="357.5" class="s1" textLength="44" lengthAdjust="spacingAndGlyphs">4_b_h2</text></g>
<g id="t_4_c_Erg" class="cW"><rect x="417" y="367"/><text x="446" y="376.5" class="s2" textLength="44" lengthAdjust="spacingAndGlyphs">4_c_Erg</text></g>
<g id="t_4_b_Erg" class="cT"><rect x="488" y="369"/><text x="517" y="378.5" class="s2" textLength="44" lengthAdjust="spacingAndGlyphs">4_b_Erg</text></g>
<g id="t_4_e_expl" class="cL"><rect x="621" y="369"/><text x="650" y="378.5" class="s3" textLength="44" lengthAdjust="spacingAndGlyphs">4_e_expl</text></g>
<g id="t_4_b_Wk" class="cT"><rect x="678" y="375"/><text x="707" y="384.5" class="s2" textLength="44" lengthAdjust="spacingAndGlyphs">4_b_Wk</text></g>
<g id="t_4_b_h3" class="cT"><rect x="546" y="383"/><text x="575" y="392.5" class="s1" textLength="44" lengthAdjust="spacingAndGlyphs">4_b_h3</text></g>
<g id="t_4_c_h1f" class="cW"><rect x="372" y="390"/><text x="401" y="399.5" class="s2" textLength="44" lengthAdjust="spacingAndGlyphs">4_c_h1f</text></g>
<g id="t_4_d_eff" class="cS"><rect x="640" y="401"/><text x="669" y="410.5" class="s1" textLength="44" lengthAdjust="spacingAndGlyphs">4_d_eff</text></g>
<g id="t_4_c_h1g" class="cW"><rect x="403" y="415"/><text x="432" y="424.5" class="s2" textLength="44" lengthAdjust="spacingAndGlyphs">4_c_h1g</text></g>
<g id="t_4_d_Erg" class="cS"><rect x="505" y="414"/><text x="534" y="423.5" class="s2" textLength="44" lengthAdjust="spacingAndGlyphs">4_d_Erg</text></g>
<g id="t_4_a_axis" class="cT"><rect x="722" y="435"/><text x="751" y="444.5" class="s3" textLength="44" lengthAdjust="spacingAndGlyphs">4_a_axis</text></g>
<g id="t_4_a_fest" class="cT"><rect x="563" y="459"/><text x="592" y="468.5" class="s2" textLength="44" lengthAdjust="spacingAndGlyphs">4_a_fest</text></g>
<g id="t_4_a_gas" class="cT"><rect x="624" y="463"/><text x="653" y="472.5" class="s2" textLength="44" lengthAdjust="spacingAndGlyphs">4_a_gas</text></g>
<g id="t_4_a_Schritt_2" class="cT"><rect x="498" y="466"/><text x="527" y="475.5" class="s7" textLength="44" lengthAdjust="spacingAndGlyphs">4_a_Schritt_2</text></g>
<g id="t_4_a_schritt_1" class="cT"><rect x="530" y="483"/><text x="559" y="492.5" class="s7" textLength="44" lengthAdjust="spacingAndGlyphs">4_a_schritt_1</text></g>
<g id="t_4_a_liquid" class="cT"><rect x="613" y="494"/><text x="642" y="503.5" class="s5" textLength="44" lengthAdjust="spacingAndGlyphs">4_a_liquid</text></g>
</g>
<g id="gL" class="nd">
<g id="l_1_a_h_aus" class="cG"><rect x="343" y="522"/><text x="369.5" y="531" class="s5" textLength="41" lengthAdjust="spacingAndGlyphs">1_a_h_aus</text></g>
<g id="l_1_a_h_ein" class="cG"><rect x="283" y="537"/><text x="309.5" y="546" class="s5" textLength="41" lengthAdjust="spacingAndGlyphs">1_a_h_ein</text></g>
<g id="l_1_e_s_1" class="cY"><rect x="160" y="558"/><text x="186.5" y="567" class="s2" textLength="41" lengthAdjust="spacingAndGlyphs">1_e_s_1</text></g>
<g id="l_1_d_Erg" class="cL"><rect x="224" y="565"/><text x="250.5" y="574" class="s2" textLength="41" lengthAdjust="spacingAndGlyphs">1_d_Erg</text></g>
<g id="l_1_a_Erg" class="cG"><rect x="317" y="568"/><text x="343.5" y="577" class="s2" textLength="41" lengthAdjust="spacingAndGlyphs">1_a_Erg</text></g>
<g id="l_1_b_Erg" class="cV"><rect x="389" y="589"/><text x="415.5" y="598" class="s2" textLength="41" lengthAdjust="spacingAndGlyphs">1_b_Erg</text></g>
<g id="l_1_d_Bilanz" class="cL"><rect x="258" y="590"/><text x="284.5" y="599" class="s5" textLength="41" lengthAdjust="spacingAndGlyphs">1_d_Bilanz</text></g>
<g id="l_1_e_s_f" class="cY"><rect x="179" y="594"/><text x="205.5" y="603" class="s2" textLength="41" lengthAdjust="spacingAndGlyphs">1_e_s_f</text></g>
<g id="l_1_e_Bilanz" class="cY"><rect x="121" y="599"/><text x="147.5" y="608" class="s5" textLength="41" lengthAdjust="spacingAndGlyphs">1_e_Bilanz</text></g>
<g id="l_1_a_balance" class="cG"><rect x="342" y="628"/><text x="368.5" y="637" class="s7" textLength="41" lengthAdjust="spacingAndGlyphs">1_a_balance</text></g>
<g id="l_1_d_h_eind" class="cL"><rect x="293" y="633"/><text x="319.5" y="642" class="s6" textLength="41" lengthAdjust="spacingAndGlyphs">1_d_h_eind</text></g>
<g id="l_1_d_u_2" class="cL"><rect x="258" y="631"/><text x="284.5" y="640" class="s2" textLength="41" lengthAdjust="spacingAndGlyphs">1_d_u_2</text></g>
<g id="l_1_e_s_2" class="cY"><rect x="179" y="638"/><text x="205.5" y="647" class="s2" textLength="41" lengthAdjust="spacingAndGlyphs">1_e_s_2</text></g>
<g id="l_1_e_s_g" class="cY"><rect x="138" y="632"/><text x="164.5" y="641" class="s2" textLength="41" lengthAdjust="spacingAndGlyphs">1_e_s_g</text></g>
<g id="l_1_e_Erg" class="cY"><rect x="103" y="665"/><text x="129.5" y="674" class="s2" textLength="41" lengthAdjust="spacingAndGlyphs">1_e_Erg</text></g>
<g id="l_1_d_u_1" class="cL"><rect x="253" y="668"/><text x="279.5" y="677" class="s2" textLength="41" lengthAdjust="spacingAndGlyphs">1_d_u_1</text></g>
<g id="l_1_b_Stoffmod_s" class="cV"><rect x="391" y="670"/><text x="417.5" y="679" class="s9" textLength="41" lengthAdjust="spacingAndGlyphs">1_b_Stoffmod_s</text></g>
<g id="l_1_b_T_KF_Tds" class="cV"><rect x="343" y="671"/><text x="369.5" y="680" class="s8" textLength="41" lengthAdjust="spacingAndGlyphs">1_b_T_KF_Tds</text></g>
<g id="l_1_d_u_f" class="cL"><rect x="296" y="694"/><text x="322.5" y="703" class="s2" textLength="41" lengthAdjust="spacingAndGlyphs">1_d_u_f</text></g>
<g id="l_1_d_u_g" class="cL"><rect x="244" y="706"/><text x="270.5" y="715" class="s2" textLength="41" lengthAdjust="spacingAndGlyphs">1_d_u_g</text></g>
<g id="l_1_b_Stoffmod_h" class="cV"><rect x="368" y="711"/><text x="394.5" y="720" class="s9" textLength="41" lengthAdjust="spacingAndGlyphs">1_b_Stoffmod_h</text></g>
<g id="l_2_d_Ex_bil" class="cP"><rect x="511" y="545"/><text x="537.5" y="554" class="s5" textLength="41" lengthAdjust="spacingAndGlyphs">2_d_Ex_bil</text></g>
<g id="l_2_d_mass_spec" class="cP"><rect x="543" y="561"/><text x="569.5" y="570" class="s9" textLength="41" lengthAdjust="spacingAndGlyphs">2_d_mass_spec</text></g>
<g id="l_2_d_ex_Q" class="cP"><rect x="587" y="597"/><text x="613.5" y="606" class="s5" textLength="41" lengthAdjust="spacingAndGlyphs">2_d_ex_Q</text></g>
<g id="l_2_b_T_6" class="cM"><rect x="492" y="638"/><text x="518.5" y="647" class="s3" textLength="41" lengthAdjust="spacingAndGlyphs">2_b_T_6</text></g>
<g id="l_2_d_Erg" class="cP"><rect x="557" y="652"/><text x="583.5" y="661" class="s2" textLength="41" lengthAdjust="spacingAndGlyphs">2_d_Erg</text></g>
<g id="l_2_b_w_6_Erg" class="cM"><rect x="450" y="667"/><text x="476.5" y="676" class="s7" textLength="41" lengthAdjust="spacingAndGlyphs">2_b_w_6_Erg</text></g>
<g id="l_2_b_Stoffmod" class="cM"><rect x="528" y="692"/><text x="554.5" y="701" class="s7" textLength="41" lengthAdjust="spacingAndGlyphs">2_b_Stoffmod</text></g>
<g id="l_2_b_T_6_Erg" class="cM"><rect x="478" y="692"/><text x="504.5" y="701" class="s7" textLength="41" lengthAdjust="spacingAndGlyphs">2_b_T_6_Erg</text></g>
<g id="l_2_b_balance" class="cM"><rect x="502" y="719"/><text x="528.5" y="728" class="s7" textLength="41" lengthAdjust="spacingAndGlyphs">2_b_balance</text></g>
<g id="l_1_c_Bilanz" class="cB"><rect x="454" y="765"/><text x="480.5" y="774" class="s5" textLength="41" lengthAdjust="spacingAndGlyphs">1_c_Bilanz</text></g>
<g id="l_2_a_5_loc" class="cK"><rect x="619" y="762"/><text x="645.5" y="771" class="s5" textLength="41" lengthAdjust="spacingAndGlyphs">2_a_5_loc</text></g>
<g id="l_2_a_34" class="cK"><rect x="650" y="771"/><text x="676.5" y="780" class="s1" textLength="41" lengthAdjust="spacingAndGlyphs">2_a_34</text></g>
<g id="l_2_a_56" class="cK"><rect x="588" y="783"/><text x="614.5" y="792" class="s1" textLength="41" lengthAdjust="spacingAndGlyphs">2_a_56</text></g>
<g id="l_2_a_achse" class="cK"><rect x="540" y="800"/><text x="566.5" y="809" class="s5" textLength="41" lengthAdjust="spacingAndGlyphs">2_a_achse</text></g>
<g id="l_2_a_12" class="cK"><rect x="653" y="803"/><text x="679.5" y="812" class="s1" textLength="41" lengthAdjust="spacingAndGlyphs">2_a_12</text></g>
<g id="l_2_a_23" class="cK"><rect x="613" y="817"/><text x="639.5" y="826" class="s1" textLength="41" lengthAdjust="spacingAndGlyphs">2_a_23</text></g>
<g id="l_2_a_isobar" class="cK"><rect x="581" y="832"/><text x="607.5" y="841" class="s5" textLength="41" lengthAdjust="spacingAndGlyphs">2_a_isobar</text></g>
<g id="l_2_a_01" class="cK"><rect x="642" y="837"/><text x="668.5" y="846" class="s1" textLength="41" lengthAdjust="spacingAndGlyphs">2_a_01</text></g>
<g id="l_2_c_delta_ex" class="cW"><rect x="402" y="816"/><text x="428.5" y="825" class="s7" textLength="41" lengthAdjust="spacingAndGlyphs">2_c_delta_ex</text></g>
<g id="l_2_c_ex_str" class="cW"><rect x="440" y="817"/><text x="466.5" y="826" class="s5" textLength="41" lengthAdjust="spacingAndGlyphs">2_c_ex_str</text></g>
<g id="l_1_c_Erg" class="cB"><rect x="497" y="836"/><text x="523.5" y="845" class="s2" textLength="41" lengthAdjust="spacingAndGlyphs">1_c_Erg</text></g>
<g id="l_2_c_Erg" class="cW"><rect x="443" y="857"/><text x="469.5" y="866" class="s2" textLength="41" lengthAdjust="spacingAndGlyphs">2_c_Erg</text></g>
<g id="l_4_b_pi_Ti" class="cT"><rect x="116" y="732"/><text x="142.5" y="741" class="s4" textLength="41" lengthAdjust="spacingAndGlyphs">4_b_pi_Ti</text></g>
<g id="l_4_a_gas" class="cT"><rect x="53" y="751"/><text x="79.5" y="760" class="s2" textLength="41" lengthAdjust="spacingAndGlyphs">4_a_gas</text></g>
<g id="l_4_a_schritt_1" class="cT"><rect x="13" y="769"/><text x="39.5" y="778" class="s7" textLength="41" lengthAdjust="spacingAndGlyphs">4_a_schritt_1</text></g>
<g id="l_4_a_axis" class="cT"><rect x="199" y="761"/><text x="225.5" y="770" class="s3" textLength="41" lengthAdjust="spacingAndGlyphs">4_a_axis</text></g>
<g id="l_4_e_expl" class="cL"><rect x="151" y="763"/><text x="177.5" y="772" class="s3" textLength="41" lengthAdjust="spacingAndGlyphs">4_e_expl</text></g>
<g id="l_4_a_Schritt_2" class="cT"><rect x="7" y="807"/><text x="33.5" y="816" class="s7" textLength="41" lengthAdjust="spacingAndGlyphs">4_a_Schritt_2</text></g>
<g id="l_4_a_fest" class="cT"><rect x="62" y="803"/><text x="88.5" y="812" class="s2" textLength="41" lengthAdjust="spacingAndGlyphs">4_a_fest</text></g>
<g id="l_4_c_h4" class="cW"><rect x="228" y="805"/><text x="254.5" y="814" class="s1" textLength="41" lengthAdjust="spacingAndGlyphs">4_c_h4</text></g>
<g id="l_4_b_Erg" class="cT"><rect x="153" y="817"/><text x="179.5" y="826" class="s2" textLength="41" lengthAdjust="spacingAndGlyphs">4_b_Erg</text></g>
<g id="l_4_a_liquid" class="cT"><rect x="34" y="834"/><text x="60.5" y="843" class="s5" textLength="41" lengthAdjust="spacingAndGlyphs">4_a_liquid</text></g>
<g id="l_4_b_Wk" class="cT"><rect x="288" y="837"/><text x="314.5" y="846" class="s2" textLength="41" lengthAdjust="spacingAndGlyphs">4_b_Wk</text></g>
<g id="l_4_b_T2" class="cT"><rect x="129" y="838"/><text x="155.5" y="847" class="s1" textLength="41" lengthAdjust="spacingAndGlyphs">4_b_T2</text></g>
<g id="l_4_b_h2" class="cT"><rect x="202" y="850"/><text x="228.5" y="859" class="s1" textLength="41" lengthAdjust="spacingAndGlyphs">4_b_h2</text></g>
<g id="l_4_c_h1" class="cW"><rect x="246" y="853"/><text x="272.5" y="862" class="s1" textLength="41" lengthAdjust="spacingAndGlyphs">4_c_h1</text></g>
<g id="l_4_b_h3" class="cT"><rect x="184" y="876"/><text x="210.5" y="885" class="s1" textLength="41" lengthAdjust="spacingAndGlyphs">4_b_h3</text></g>
<g id="l_4_c_x1" class="cW"><rect x="153" y="882"/><text x="179.5" y="891" class="s1" textLength="41" lengthAdjust="spacingAndGlyphs">4_c_x1</text></g>
<g id="l_4_c_Erg" class="cW"><rect x="108" y="892"/><text x="134.5" y="901" class="s2" textLength="41" lengthAdjust="spacingAndGlyphs">4_c_Erg</text></g>
<g id="l_4_b_s3" class="cT"><rect x="199" y="907"/><text x="225.5" y="916" class="s1" textLength="41" lengthAdjust="spacingAndGlyphs">4_b_s3</text></g>
<g id="l_3_b_p" class="cO"><rect x="312" y="902"/><text x="338.5" y="911" class="s1" textLength="41" lengthAdjust="spacingAndGlyphs">3_b_p</text></g>
<g id="l_3_b_T" class="cO"><rect x="361" y="889"/><text x="387.5" y="898" class="s1" textLength="41" lengthAdjust="spacingAndGlyphs">3_b_T</text></g>
<g id="l_4_c_h1f" class="cW"><rect x="132" y="941"/><text x="158.5" y="950" class="s2" textLength="41" lengthAdjust="spacingAndGlyphs">4_c_h1f</text></g>
<g id="l_4_c_h1g" class="cW"><rect x="91" y="935"/><text x="117.5" y="944" class="s2" textLength="41" lengthAdjust="spacingAndGlyphs">4_c_h1g</text></g>
<g id="l_4_d_Q" class="cS"><rect x="247" y="940"/><text x="273.5" y="949" class="s1" textLength="41" lengthAdjust="spacingAndGlyphs">4_d_Q</text></g>
<g id="l_4_d_eff" class="cS"><rect x="194" y="1003"/><text x="220.5" y="1012" class="s1" textLength="41" lengthAdjust="spacingAndGlyphs">4_d_eff</text></g>
<g id="l_4_d_Erg" class="cS"><rect x="132" y="1006"/><text x="158.5" y="1015" class="s2" textLength="41" lengthAdjust="spacingAndGlyphs">4_d_Erg</text></g>
<g id="l_3_d_u_EW" class="cB"><rect x="338" y="967"/><text x="364.5" y="976" class="s5" textLength="41" lengthAdjust="spacingAndGlyphs">3_d_u_EW</text></g>
<g id="l_3_d_x_Eis" class="cB"><rect x="375" y="963"/><text x="401.5" y="972" class="s5" textLength="41" lengthAdjust="spacingAndGlyphs">3_d_x_Eis</text></g>
<g id="l_3_d_U12" class="cB"><rect x="332" y="994"/><text x="358.5" y="1003" class="s3" textLength="41" lengthAdjust="spacingAndGlyphs">3_d_U12</text></g>
<g id="l_3_d_balance" class="cB"><rect x="299" y="985"/><text x="325.5" y="994" class="s7" textLength="41" lengthAdjust="spacingAndGlyphs">3_d_balance</text></g>
<g id="l_3_d_Arbeit" class="cB"><rect x="294" y="1014"/><text x="320.5" y="1023" class="s5" textLength="41" lengthAdjust="spacingAndGlyphs">3_d_Arbeit</text></g>
<g id="l_3_d_Erg" class="cB"><rect x="384" y="1004"/><text x="410.5" y="1013" class="s2" textLength="41" lengthAdjust="spacingAndGlyphs">3_d_Erg</text></g>
<g id="l_3_d_u_W" class="cB"><rect x="352" y="1019"/><text x="378.5" y="1028" class="s4" textLength="41" lengthAdjust="spacingAndGlyphs">3_d_u_W</text></g>
<g id="l_3_d_u_E" class="cB"><rect x="321" y="1032"/><text x="347.5" y="1041" class="s3" textLength="41" lengthAdjust="spacingAndGlyphs">3_d_u_E</text></g>
<g id="l_3_a_IG" class="cV"><rect x="517" y="922"/><text x="543.5" y="931" class="s1" textLength="41" lengthAdjust="spacingAndGlyphs">3_a_IG</text></g>
<g id="l_3_a_R" class="cV"><rect x="593" y="950"/><text x="619.5" y="959" class="s1" textLength="41" lengthAdjust="spacingAndGlyphs">3_a_R</text></g>
<g id="l_3_a_delta_p" class="cV"><rect x="495" y="955"/><text x="521.5" y="964" class="s6" textLength="41" lengthAdjust="spacingAndGlyphs">3_a_delta_p</text></g>
<g id="l_3_a_Erg" class="cV"><rect x="546" y="972"/><text x="572.5" y="981" class="s2" textLength="41" lengthAdjust="spacingAndGlyphs">3_a_Erg</text></g>
<g id="l_3_a_pres" class="cV"><rect x="482" y="990"/><text x="508.5" y="999" class="s3" textLength="41" lengthAdjust="spacingAndGlyphs">3_a_pres</text></g>
<g id="l_3_a_pres_Erg" class="cV"><rect x="517" y="1017"/><text x="543.5" y="1026" class="s8" textLength="41" lengthAdjust="spacingAndGlyphs">3_a_pres_Erg</text></g>
<g id="l_3_c_Heat" class="cM"><rect x="347" y="1101"/><text x="373.5" y="1110" class="s4" textLength="41" lengthAdjust="spacingAndGlyphs">3_c_Heat</text></g>
<g id="l_3_c_Erg" class="cM"><rect x="398" y="1114"/><text x="424.5" y="1123" class="s2" textLength="41" lengthAdjust="spacingAndGlyphs">3_c_Erg</text></g>
<g id="l_3_c_cp" class="cM"><rect x="314" y="1167"/><text x="340.5" y="1176" class="s1" textLength="41" lengthAdjust="spacingAndGlyphs">3_c_cp</text></g>
</g>
<g id="gR" class="nd">
<g id="r_4_a_Schritt_2" class="cT"><rect x="877" y="605"/><text x="908.5" y="613" class="s7" textLength="48" lengthAdjust="spacingAndGlyphs">4_a_Schritt_2</text></g>
<g id="r_4_a_schritt_1" class="cT"><rect x="840" y="601"/><text x="871.5" y="609" class="s7" textLength="48" lengthAdjust="spacingAndGlyphs">4_a_schritt_1</text></g>
<g id="r_4_a_gas" class="cT"><rect x="832" y="641"/><text x="863.5" y="649" class="s2" textLength="48" lengthAdjust="spacingAndGlyphs">4_a_gas</text></g>
<g id="r_4_a_liquid" class="cT"><rect x="793" y="648"/><text x="824.5" y="656" class="s5" textLength="48" lengthAdjust="spacingAndGlyphs">4_a_liquid</text></g>
<g id="r_4_a_fest" class="cT"><rect x="858" y="660"/><text x="889.5" y="668" class="s2" textLength="48" lengthAdjust="spacingAndGlyphs">4_a_fest</text></g>
<g id="r_1_e_Bilanz" class="cY"><rect x="1055" y="600"/><text x="1086.5" y="608" class="s5" textLength="48" lengthAdjust="spacingAndGlyphs">1_e_Bilanz</text></g>
<g id="r_1_e_s_1" class="cY"><rect x="1109" y="608"/><text x="1140.5" y="616" class="s2" textLength="48" lengthAdjust="spacingAndGlyphs">1_e_s_1</text></g>
<g id="r_1_e_Erg" class="cY"><rect x="1014" y="629"/><text x="1045.5" y="637" class="s2" textLength="48" lengthAdjust="spacingAndGlyphs">1_e_Erg</text></g>
<g id="r_1_e_s_2" class="cY"><rect x="1082" y="641"/><text x="1113.5" y="649" class="s2" textLength="48" lengthAdjust="spacingAndGlyphs">1_e_s_2</text></g>
<g id="r_1_e_s_f" class="cY"><rect x="1061" y="670"/><text x="1092.5" y="678" class="s2" textLength="48" lengthAdjust="spacingAndGlyphs">1_e_s_f</text></g>
<g id="r_1_e_s_g" class="cY"><rect x="1023" y="684"/><text x="1054.5" y="692" class="s2" textLength="48" lengthAdjust="spacingAndGlyphs">1_e_s_g</text></g>
<g id="r_4_b_pi_Ti" class="cS"><rect x="955" y="656"/><text x="986.5" y="664" class="s4" textLength="48" lengthAdjust="spacingAndGlyphs">4_b_pi_Ti</text></g>
<g id="r_4_e_expl" class="cP"><rect x="923" y="688"/><text x="954.5" y="696" class="s3" textLength="48" lengthAdjust="spacingAndGlyphs">4_e_expl</text></g>
<g id="r_4_a_axis" class="cT"><rect x="957" y="732"/><text x="988.5" y="740" class="s3" textLength="48" lengthAdjust="spacingAndGlyphs">4_a_axis</text></g>
<g id="r_4_b_Erg" class="cS"><rect x="870" y="738"/><text x="901.5" y="746" class="s2" textLength="48" lengthAdjust="spacingAndGlyphs">4_b_Erg</text></g>
<g id="r_4_c_Erg" class="cO"><rect x="814" y="747"/><text x="845.5" y="755" class="s2" textLength="48" lengthAdjust="spacingAndGlyphs">4_c_Erg</text></g>
<g id="r_4_c_h1g" class="cO"><rect x="768" y="748"/><text x="799.5" y="756" class="s2" textLength="48" lengthAdjust="spacingAndGlyphs">4_c_h1g</text></g>
<g id="r_4_b_T2" class="cS"><rect x="898" y="746"/><text x="929.5" y="754" class="s1" textLength="48" lengthAdjust="spacingAndGlyphs">4_b_T2</text></g>
<g id="r_4_c_x1" class="cO"><rect x="847" y="778"/><text x="878.5" y="786" class="s1" textLength="48" lengthAdjust="spacingAndGlyphs">4_c_x1</text></g>
<g id="r_4_c_h1f" class="cO"><rect x="779" y="783"/><text x="810.5" y="791" class="s2" textLength="48" lengthAdjust="spacingAndGlyphs">4_c_h1f</text></g>
<g id="r_4_c_h4" class="cO"><rect x="948" y="786"/><text x="979.5" y="794" class="s1" textLength="48" lengthAdjust="spacingAndGlyphs">4_c_h4</text></g>
<g id="r_4_b_h2" class="cS"><rect x="907" y="798"/><text x="938.5" y="806" class="s1" textLength="48" lengthAdjust="spacingAndGlyphs">4_b_h2</text></g>
<g id="r_4_b_h3" class="cS"><rect x="876" y="802"/><text x="907.5" y="810" class="s1" textLength="48" lengthAdjust="spacingAndGlyphs">4_b_h3</text></g>
<g id="r_4_d_Erg" class="cG"><rect x="736" y="828"/><text x="767.5" y="836" class="s2" textLength="48" lengthAdjust="spacingAndGlyphs">4_d_Erg</text></g>
<g id="r_4_b_s3" class="cS"><rect x="864" y="832"/><text x="895.5" y="840" class="s1" textLength="48" lengthAdjust="spacingAndGlyphs">4_b_s3</text></g>
<g id="r_4_c_h1" class="cO"><rect x="936" y="833"/><text x="967.5" y="841" class="s1" textLength="48" lengthAdjust="spacingAndGlyphs">4_c_h1</text></g>
<g id="r_4_b_Wk" class="cS"><rect x="812" y="854"/><text x="843.5" y="862" class="s2" textLength="48" lengthAdjust="spacingAndGlyphs">4_b_Wk</text></g>
<g id="r_4_d_eff" class="cG"><rect x="772" y="880"/><text x="803.5" y="888" class="s1" textLength="48" lengthAdjust="spacingAndGlyphs">4_d_eff</text></g>
<g id="r_4_d_Q" class="cG"><rect x="877" y="885"/><text x="908.5" y="893" class="s1" textLength="48" lengthAdjust="spacingAndGlyphs">4_d_Q</text></g>
<g id="r_1_a_h_ein" class="cB"><rect x="1183" y="646"/><text x="1214.5" y="654" class="s5" textLength="48" lengthAdjust="spacingAndGlyphs">1_a_h_ein</text></g>
<g id="r_1_d_Erg" class="cK"><rect x="1127" y="672"/><text x="1158.5" y="680" class="s2" textLength="48" lengthAdjust="spacingAndGlyphs">1_d_Erg</text></g>
<g id="r_1_a_h_aus" class="cB"><rect x="1245" y="682"/><text x="1276.5" y="690" class="s5" textLength="48" lengthAdjust="spacingAndGlyphs">1_a_h_aus</text></g>
<g id="r_1_a_Erg" class="cB"><rect x="1194" y="699"/><text x="1225.5" y="707" class="s2" textLength="48" lengthAdjust="spacingAndGlyphs">1_a_Erg</text></g>
<g id="r_1_d_Bilanz" class="cK"><rect x="1137" y="708"/><text x="1168.5" y="716" class="s5" textLength="48" lengthAdjust="spacingAndGlyphs">1_d_Bilanz</text></g>
<g id="r_1_d_h_eind" class="cK"><rect x="1091" y="733"/><text x="1122.5" y="741" class="s6" textLength="48" lengthAdjust="spacingAndGlyphs">1_d_h_eind</text></g>
<g id="r_1_a_balance" class="cB"><rect x="1159" y="757"/><text x="1190.5" y="765" class="s7" textLength="48" lengthAdjust="spacingAndGlyphs">1_a_balance</text></g>
<g id="r_1_d_u_2" class="cK"><rect x="1121" y="749"/><text x="1152.5" y="757" class="s2" textLength="48" lengthAdjust="spacingAndGlyphs">1_d_u_2</text></g>
<g id="r_1_d_u_1" class="cK"><rect x="1070" y="768"/><text x="1101.5" y="776" class="s2" textLength="48" lengthAdjust="spacingAndGlyphs">1_d_u_1</text></g>
<g id="r_1_b_Erg" class="cB"><rect x="1249" y="763"/><text x="1280.5" y="771" class="s2" textLength="48" lengthAdjust="spacingAndGlyphs">1_b_Erg</text></g>
<g id="r_1_b_T_KF_Tds" class="cB"><rect x="1179" y="787"/><text x="1210.5" y="795" class="s8" textLength="48" lengthAdjust="spacingAndGlyphs">1_b_T_KF_Tds</text></g>
<g id="r_1_d_u_f" class="cK"><rect x="1092" y="807"/><text x="1123.5" y="815" class="s2" textLength="48" lengthAdjust="spacingAndGlyphs">1_d_u_f</text></g>
<g id="r_1_d_u_g" class="cK"><rect x="1039" y="804"/><text x="1070.5" y="812" class="s2" textLength="48" lengthAdjust="spacingAndGlyphs">1_d_u_g</text></g>
<g id="r_1_b_Stoffmod_h" class="cB"><rect x="1161" y="831"/><text x="1192.5" y="839" class="s9" textLength="48" lengthAdjust="spacingAndGlyphs">1_b_Stoffmod_h</text></g>
<g id="r_1_b_Stoffmod_s" class="cB"><rect x="1207" y="822"/><text x="1238.5" y="830" class="s9" textLength="48" lengthAdjust="spacingAndGlyphs">1_b_Stoffmod_s</text></g>
<g id="r_2_d_mass_spec" class="cS"><rect x="1289" y="848"/><text x="1320.5" y="856" class="s9" textLength="48" lengthAdjust="spacingAndGlyphs">2_d_mass_spec</text></g>
<g id="r_2_d_Ex_bil" class="cS"><rect x="1291" y="886"/><text x="1322.5" y="894" class="s5" textLength="48" lengthAdjust="spacingAndGlyphs">2_d_Ex_bil</text></g>
<g id="r_2_d_Erg" class="cS"><rect x="1107" y="905"/><text x="1138.5" y="913" class="s2" textLength="48" lengthAdjust="spacingAndGlyphs">2_d_Erg</text></g>
<g id="r_2_b_w_6_Erg" class="cP"><rect x="1168" y="902"/><text x="1199.5" y="910" class="s7" textLength="48" lengthAdjust="spacingAndGlyphs">2_b_w_6_Erg</text></g>
<g id="r_1_c_Bilanz" class="cM"><rect x="1245" y="903"/><text x="1276.5" y="911" class="s5" textLength="48" lengthAdjust="spacingAndGlyphs">1_c_Bilanz</text></g>
<g id="r_2_d_ex_Q" class="cS"><rect x="1279" y="929"/><text x="1310.5" y="937" class="s5" textLength="48" lengthAdjust="spacingAndGlyphs">2_d_ex_Q</text></g>
<g id="r_2_b_balance" class="cP"><rect x="1199" y="933"/><text x="1230.5" y="941" class="s7" textLength="48" lengthAdjust="spacingAndGlyphs">2_b_balance</text></g>
<g id="r_2_c_delta_ex" class="cL"><rect x="1042" y="950"/><text x="1073.5" y="958" class="s7" textLength="48" lengthAdjust="spacingAndGlyphs">2_c_delta_ex</text></g>
<g id="r_2_b_T_6_Erg" class="cP"><rect x="1138" y="955"/><text x="1169.5" y="963" class="s7" textLength="48" lengthAdjust="spacingAndGlyphs">2_b_T_6_Erg</text></g>
<g id="r_2_b_Stoffmod" class="cP"><rect x="1215" y="967"/><text x="1246.5" y="975" class="s7" textLength="48" lengthAdjust="spacingAndGlyphs">2_b_Stoffmod</text></g>
<g id="r_2_b_T_6" class="cP"><rect x="1172" y="977"/><text x="1203.5" y="985" class="s3" textLength="48" lengthAdjust="spacingAndGlyphs">2_b_T_6</text></g>
<g id="r_2_c_ex_str" class="cL"><rect x="1068" y="981"/><text x="1099.5" y="989" class="s5" textLength="48" lengthAdjust="spacingAndGlyphs">2_c_ex_str</text></g>
<g id="r_1_c_Erg" class="cM"><rect x="1270" y="984"/><text x="1301.5" y="992" class="s2" textLength="48" lengthAdjust="spacingAndGlyphs">1_c_Erg</text></g>
<g id="r_2_c_Erg" class="cL"><rect x="1033" y="1001"/><text x="1064.5" y="1009" class="s2" textLength="48" lengthAdjust="spacingAndGlyphs">2_c_Erg</text></g>
<g id="r_3_b_p" class="cL"><rect x="940" y="912"/><text x="971.5" y="920" class="s1" textLength="48" lengthAdjust="spacingAndGlyphs">3_b_p</text></g>
<g id="r_3_b_T" class="cL"><rect x="973" y="938"/><text x="1004.5" y="946" class="s1" textLength="48" lengthAdjust="spacingAndGlyphs">3_b_T</text></g>
<g id="r_3_d_balance" class="cV"><rect x="843" y="940"/><text x="874.5" y="948" class="s7" textLength="48" lengthAdjust="spacingAndGlyphs">3_d_balance</text></g>
<g id="r_3_d_u_EW" class="cV"><rect x="808" y="955"/><text x="839.5" y="963" class="s5" textLength="48" lengthAdjust="spacingAndGlyphs">3_d_u_EW</text></g>
<g id="r_3_d_Arbeit" class="cV"><rect x="877" y="956"/><text x="908.5" y="964" class="s5" textLength="48" lengthAdjust="spacingAndGlyphs">3_d_Arbeit</text></g>
<g id="r_3_d_U12" class="cV"><rect x="842" y="976"/><text x="873.5" y="984" class="s3" textLength="48" lengthAdjust="spacingAndGlyphs">3_d_U12</text></g>
<g id="r_3_d_u_W" class="cV"><rect x="814" y="988"/><text x="845.5" y="996" class="s4" textLength="48" lengthAdjust="spacingAndGlyphs">3_d_u_W</text></g>
<g id="r_3_d_u_E" class="cV"><rect x="863" y="993"/><text x="894.5" y="1001" class="s3" textLength="48" lengthAdjust="spacingAndGlyphs">3_d_u_E</text></g>
<g id="r_3_d_x_Eis" class="cV"><rect x="899" y="1007"/><text x="930.5" y="1015" class="s5" textLength="48" lengthAdjust="spacingAndGlyphs">3_d_x_Eis</text></g>
<g id="r_3_d_Erg" class="cV"><rect x="862" y="1034"/><text x="893.5" y="1042" class="s2" textLength="48" lengthAdjust="spacingAndGlyphs">3_d_Erg</text></g>
<g id="r_3_c_Heat" class="cT"><rect x="791" y="1068"/><text x="822.5" y="1076" class="s4" textLength="48" lengthAdjust="spacingAndGlyphs">3_c_Heat</text></g>
<g id="r_3_c_cp" class="cT"><rect x="720" y="1089"/><text x="751.5" y="1097" class="s1" textLength="48" lengthAdjust="spacingAndGlyphs">3_c_cp</text></g>
<g id="r_3_c_Erg" class="cT"><rect x="809" y="1113"/><text x="840.5" y="1121" class="s2" textLength="48" lengthAdjust="spacingAndGlyphs">3_c_Erg</text></g>
<g id="r_3_a_pres" class="cV"><rect x="986" y="1065"/><text x="1017.5" y="1073" class="s3" textLength="48" lengthAdjust="spacingAndGlyphs">3_a_pres</text></g>
<g id="r_3_a_IG" class="cV"><rect x="1047" y="1082"/><text x="1078.5" y="1090" class="s1" textLength="48" lengthAdjust="spacingAndGlyphs">3_a_IG</text></g>
<g id="r_3_a_delta_p" class="cV"><rect x="1007" y="1091"/><text x="1038.5" y="1099" class="s6" textLength="48" lengthAdjust="spacingAndGlyphs">3_a_delta_p</text></g>
<g id="r_3_a_pres_Erg" class="cV"><rect x="959" y="1116"/><text x="990.5" y="1124" class="s8" textLength="48" lengthAdjust="spacingAndGlyphs">3_a_pres_Erg</text></g>
<g id="r_3_a_Erg" class="cV"><rect x="1000" y="1138"/><text x="1031.5" y="1146" class="s2" textLength="48" lengthAdjust="spacingAndGlyphs">3_a_Erg</text></g>
<g id="r_3_a_R" class="cV"><rect x="1042" y="1170"/><text x="1073.5" y="1178" class="s1" textLength="48" lengthAdjust="spacingAndGlyphs">3_a_R</text></g>
<g id="r_2_a_achse" class="cK"><rect x="1108" y="1042"/><text x="1139.5" y="1050" class="s5" textLength="48" lengthAdjust="spacingAndGlyphs">2_a_achse</text></g>
<g id="r_2_a_isobar" class="cK"><rect x="1165" y="1058"/><text x="1196.5" y="1066" class="s5" textLength="48" lengthAdjust="spacingAndGlyphs">2_a_isobar</text></g>
<g id="r_2_a_56" class="cK"><rect x="1144" y="1082"/><text x="1175.5" y="1090" class="s1" textLength="48" lengthAdjust="spacingAndGlyphs">2_a_56</text></g>
<g id="r_2_a_12" class="cK"><rect x="1210" y="1077"/><text x="1241.5" y="1085" class="s1" textLength="48" lengthAdjust="spacingAndGlyphs">2_a_12</text></g>
<g id="r_2_a_01" class="cK"><rect x="1182" y="1111"/><text x="1213.5" y="1119" class="s1" textLength="48" lengthAdjust="spacingAndGlyphs">2_a_01</text></g>
<g id="r_2_a_34" class="cK"><rect x="1213" y="1111"/><text x="1244.5" y="1119" class="s1" textLength="48" lengthAdjust="spacingAndGlyphs">2_a_34</text></g>
<g id="r_2_a_23" class="cK"><rect x="1136" y="1116"/><text x="1167.5" y="1124" class="s1" textLength="48" lengthAdjust="spacingAndGlyphs">2_a_23</text></g>
<g id="r_2_a_5_loc" class="cK"><rect x="1168" y="1133"/><text x="1199.5" y="1141" class="s5" textLength="48" lengthAdjust="spacingAndGlyphs">2_a_5_loc</text></g>
</g>
</svg>
